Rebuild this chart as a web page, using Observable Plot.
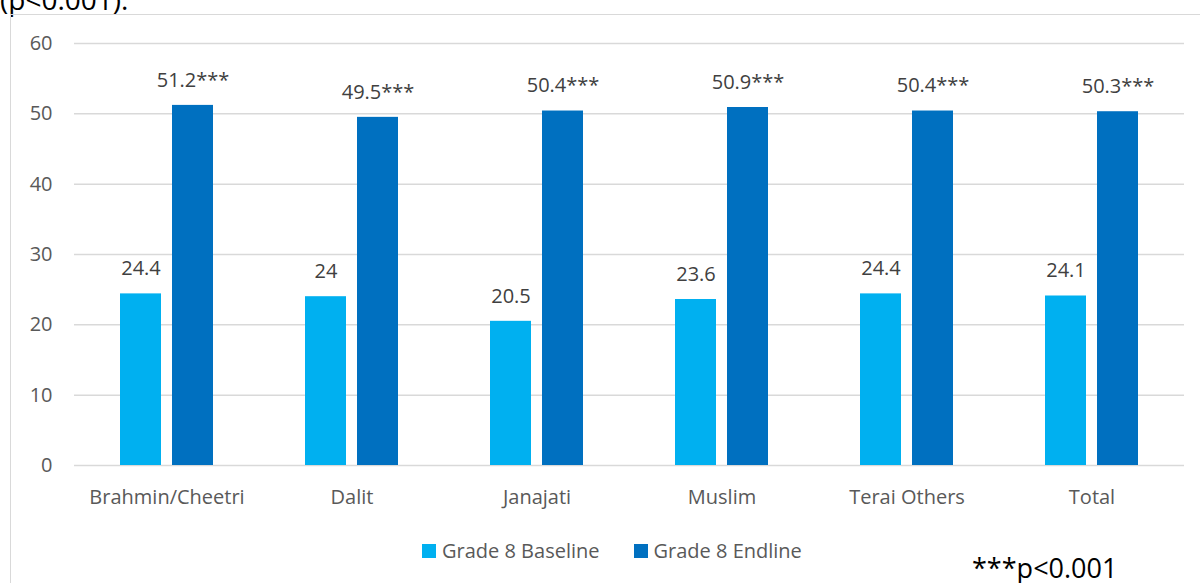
<!DOCTYPE html>
<html>
<head>
<meta charset="utf-8">
<script src="https://cdn.jsdelivr.net/npm/d3@7"></script>
<script src="https://cdn.jsdelivr.net/npm/@observablehq/plot@0.6"></script>
<style>
  html, body { margin: 0; padding: 0; background: #fff; }
  #page { position: relative; width: 1200px; height: 583px; overflow: hidden; font-family: "Open Sans", sans-serif; }
  #note-top { position: absolute; left: 0; top: -18px; font-size: 28px; line-height: 34px; color: #000; white-space: nowrap; }
  #frame { position: absolute; left: 10px; top: 14px; width: 1200px; height: 620px; border: 1px solid #d9d9d9; box-sizing: border-box; }
  #chart { position: absolute; left: 0; top: 0; }
  #legend { position: absolute; left: 422px; top: 537px; display: flex; gap: 34px; font-size: 20px; line-height: 28px; color: #595959; font-family: "Open Sans", sans-serif; }
  #legend .item { display: flex; align-items: center; gap: 6px; }
  #legend .sw { width: 14px; height: 14px; display: inline-block; }
  #sig { position: absolute; left: 972px; top: 550px; font-size: 27px; line-height: 36px; color: #000; font-family: "Open Sans", sans-serif; white-space: nowrap; }
</style>
</head>
<body>
<div id="page">
  <div id="note-top">(p&lt;0.001).</div>
  <div id="frame"></div>
  <div id="chart"></div>
  <div id="legend"></div>
  <div id="sig">***p&lt;0.001</div>
</div>
<script>
// Ethnic groups on the x axis
const groups = ["Brahmin/Cheetri", "Dalit", "Janajati", "Muslim", "Terai Others", "Total"];
// Grade 8 scores, baseline and endline
const baseline = [24.4, 24, 20.5, 23.6, 24.4, 24.1];
const endline = [51.2, 49.5, 50.4, 50.9, 50.4, 50.3];
const seriesNames = ["Grade 8 Baseline", "Grade 8 Endline"];
const seriesColors = ["#00B0F0", "#0070C0"];
const yTicks = [0, 10, 20, 30, 40, 50, 60];
const endlineMark = "***";

const rows = groups.map((g, i) => ({group: g, base: baseline[i], end: endline[i]}));

const barInset = 72; // leaves ~41px bars in a 185px band
const offset = 26;   // half the spacing between the two bars of a group

const chart = Plot.plot({
  width: 1200,
  height: 525,
  marginLeft: 74,
  marginRight: 16,
  marginTop: 43,
  marginBottom: 60,
  style: {fontFamily: "'Open Sans', sans-serif", fontSize: "20px", color: "#595959", background: "transparent"},
  x: {domain: groups, padding: 0, label: null, tickSize: 0, tickPadding: 24},
  y: {domain: [0, 60], ticks: yTicks, label: null, tickSize: 0, tickPadding: 22},
  marks: [
    Plot.gridY(yTicks, {stroke: "#d9d9d9", strokeOpacity: 1, strokeWidth: 1.5}),
    Plot.barY(rows, {x: "group", y: "base", fill: seriesColors[0], dx: -offset, insetLeft: barInset, insetRight: barInset}),
    Plot.barY(rows, {x: "group", y: "end", fill: seriesColors[1], dx: offset, insetLeft: barInset, insetRight: barInset}),
    Plot.text(rows, {x: "group", y: "base", text: d => String(d.base), dx: -offset, dy: -25, lineAnchor: "middle", fill: "#404040", fontSize: 20}),
    Plot.text(rows, {x: "group", y: "end", text: d => String(d.end) + endlineMark, dx: offset, dy: -25, lineAnchor: "middle", fill: "#404040", fontSize: 20})
  ]
});
document.getElementById("chart").appendChild(chart);

const legend = document.getElementById("legend");
seriesNames.forEach((name, i) => {
  const item = document.createElement("div");
  item.className = "item";
  const sw = document.createElement("span");
  sw.className = "sw";
  sw.style.background = seriesColors[i];
  const label = document.createElement("span");
  label.textContent = name;
  item.appendChild(sw);
  item.appendChild(label);
  legend.appendChild(item);
});
</script>
</body>
</html>
